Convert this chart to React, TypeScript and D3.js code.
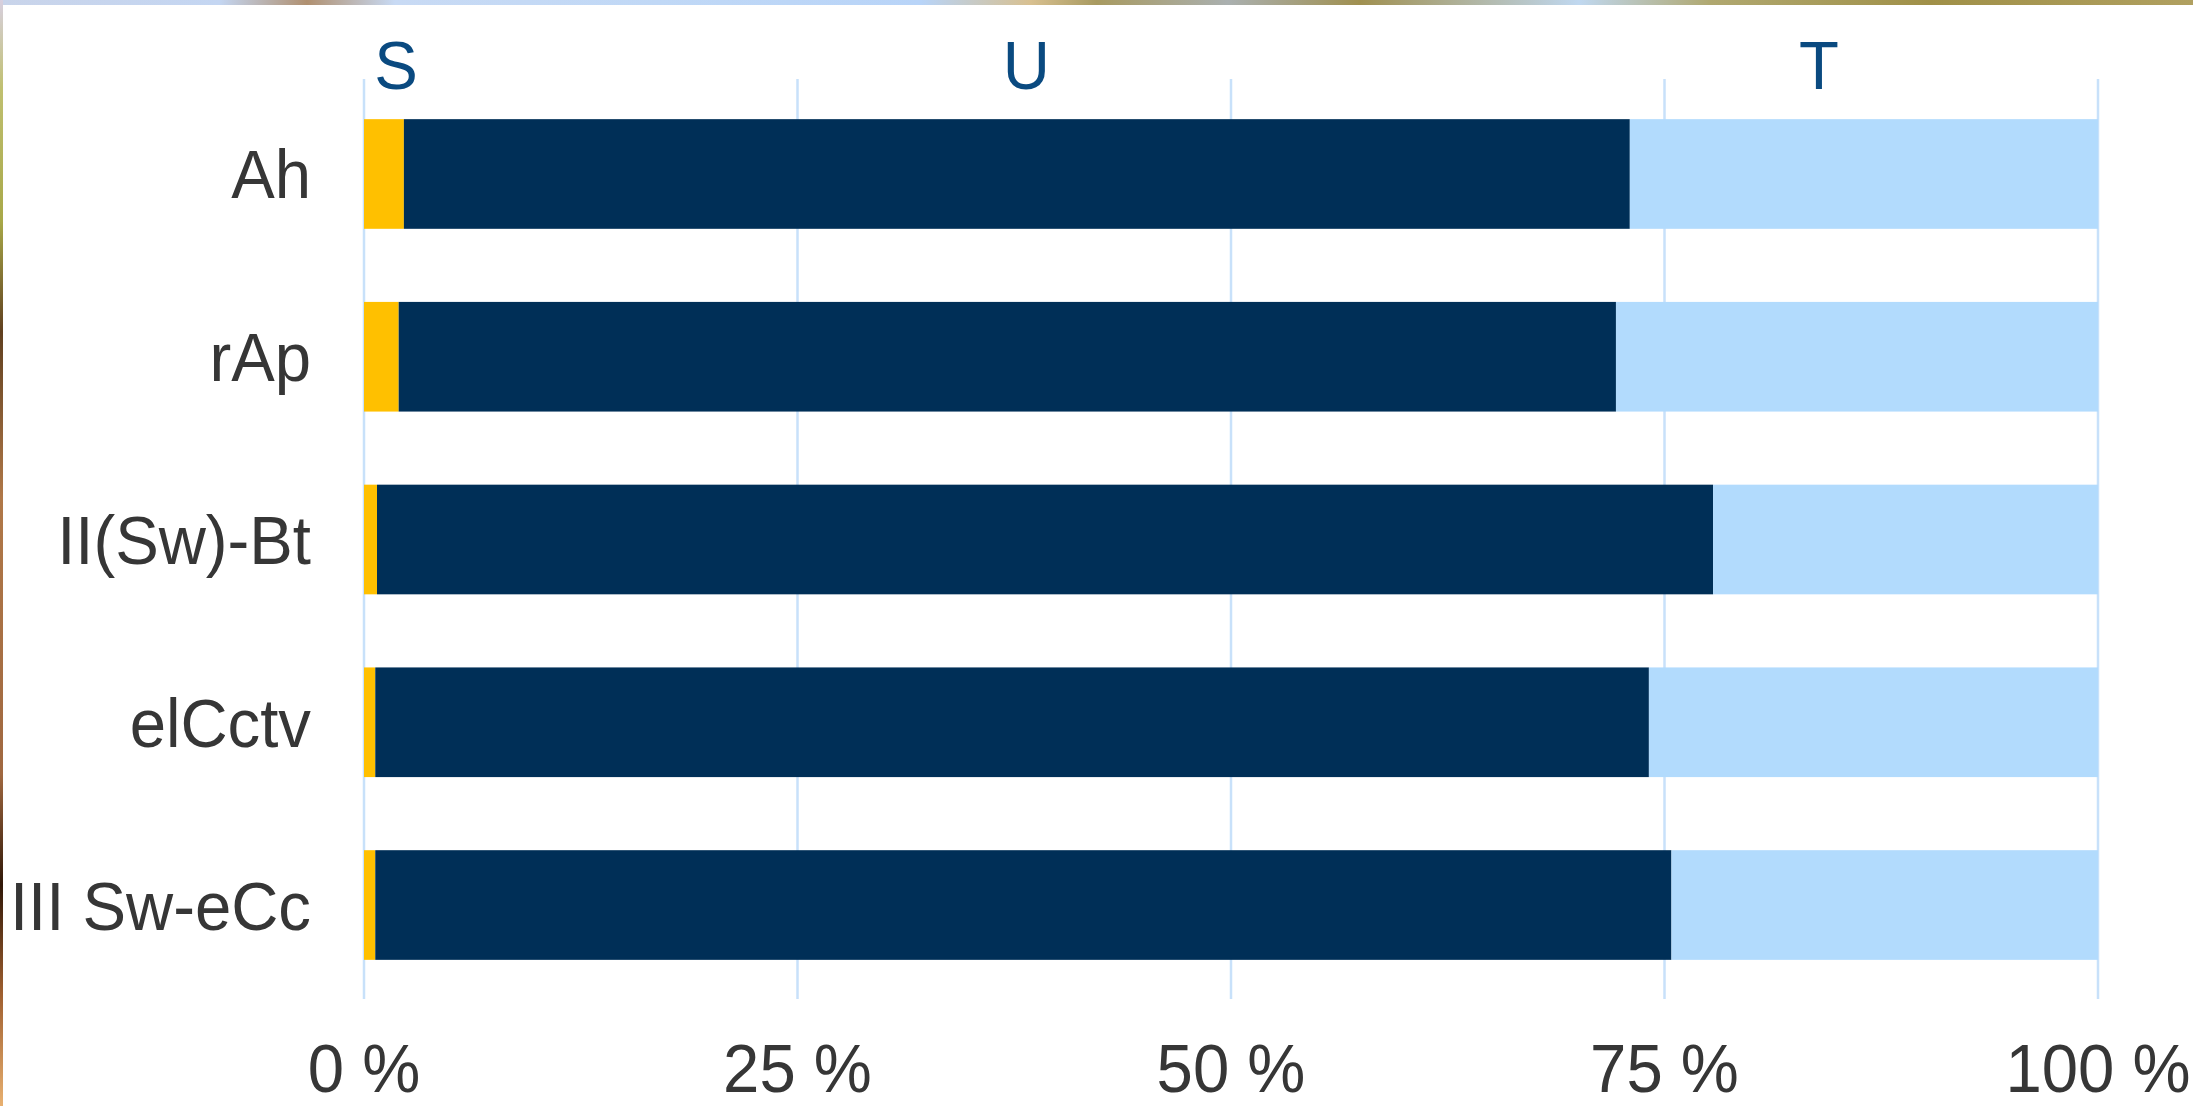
import React from "react";
import * as d3 from "d3";

const categories = ["Ah", "rAp", "II(Sw)-Bt", "elCctv", "III Sw-eCc"];
const seriesKeys = ["S", "U", "T"];
const sValues = [2.3, 2.0, 0.75, 0.65, 0.65];
const uValues = [70.7, 70.2, 77.05, 73.45, 74.75];
const tValues = [27.0, 27.8, 22.2, 25.9, 24.6];
const xTicks = [0, 25, 50, 75, 100];
const headerLabels = ["S", "U", "T"];
const headerPositions = [1.85, 38.2, 83.9];

const colors: Record<string, string> = { S: "#FFC000", U: "#002F57", T: "#B2DBFD" };

const W = 2193;
const H = 1106;
const SX = 0.96;

export default function App() {
  const rows = categories.map((c, i) => ({ cat: c, S: sValues[i], U: uValues[i], T: tValues[i] }));
  const stack = d3.stack<any>().keys(seriesKeys);
  const stacked = stack(rows);

  const x = d3.scaleLinear().domain([0, 100]).range([364, 2098]);
  const y = d3
    .scaleBand<string>()
    .domain(categories)
    .range([82.6, 996.4])
    .paddingInner(0.4)
    .paddingOuter(0.2);

  const font = "'Liberation Sans', Arial, sans-serif";

  const txt = (key: string, tx: number, ty: number, anchor: string, fill: string, s: string) => (
    <text
      key={key}
      transform={`translate(${tx},${ty}) scale(${SX},1)`}
      textAnchor={anchor as any}
      fontFamily={font}
      fontSize={68}
      fill={fill}
    >
      {s}
    </text>
  );

  return (
    <svg
      width={W}
      height={H}
      style={{ position: "absolute", left: 0, top: 0, display: "block", background: "#fff" }}
    >
      <defs>
        <linearGradient id="topStrip" x1="0" x2="1" y1="0" y2="0">
          <stop offset="0" stopColor="#c9d4ea" />
          <stop offset="0.1" stopColor="#c4d6f2" />
          <stop offset="0.14" stopColor="#b09070" />
          <stop offset="0.18" stopColor="#c8daf4" />
          <stop offset="0.3" stopColor="#c0d8f6" />
          <stop offset="0.42" stopColor="#b8d4f8" />
          <stop offset="0.47" stopColor="#d8c090" />
          <stop offset="0.5" stopColor="#a89a60" />
          <stop offset="0.56" stopColor="#aab0b0" />
          <stop offset="0.62" stopColor="#a09050" />
          <stop offset="0.72" stopColor="#c0d8f0" />
          <stop offset="0.78" stopColor="#b0a870" />
          <stop offset="0.88" stopColor="#a09048" />
          <stop offset="1" stopColor="#b0a060" />
        </linearGradient>
        <linearGradient id="leftStrip" x1="0" x2="0" y1="0" y2="1">
          <stop offset="0" stopColor="#d8d0e0" />
          <stop offset="0.08" stopColor="#c0c070" />
          <stop offset="0.2" stopColor="#a8a848" />
          <stop offset="0.3" stopColor="#604020" />
          <stop offset="0.45" stopColor="#b07848" />
          <stop offset="0.7" stopColor="#a06840" />
          <stop offset="0.8" stopColor="#301808" />
          <stop offset="0.9" stopColor="#a06030" />
          <stop offset="1" stopColor="#e8b070" />
        </linearGradient>
      </defs>
      <rect x={0} y={0} width={W} height={5} fill="url(#topStrip)" />
      <rect x={0} y={0} width={3} height={H} fill="url(#leftStrip)" />

      {xTicks.map((t) => (
        <line
          key={"g" + t}
          x1={x(t)}
          x2={x(t)}
          y1={79}
          y2={999}
          stroke="#c8e1fa"
          strokeWidth={2.5}
        />
      ))}

      {stacked.map((series) => (
        <g key={series.key} fill={colors[series.key]}>
          {series.map((d, i) => (
            <rect
              key={i}
              x={x(d[0])}
              y={y(categories[i])}
              width={x(d[1]) - x(d[0])}
              height={y.bandwidth()}
            />
          ))}
        </g>
      ))}

      {categories.map((c) =>
        txt(c, 311, (y(c) as number) + y.bandwidth() / 2 + 24.5, "end", "#363636", c)
      )}

      {xTicks.map((t) => txt("t" + t, x(t), 1092, "middle", "#363636", t + " %"))}

      {headerLabels.map((h, i) => txt("h" + h, x(headerPositions[i]), 89, "middle", "#0a4a80", h))}
    </svg>
  );
}
